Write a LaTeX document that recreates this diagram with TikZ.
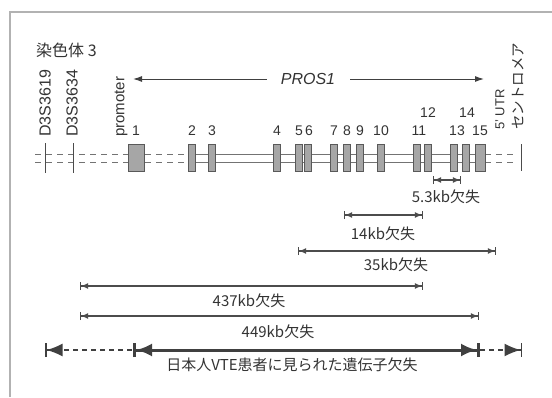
\documentclass[tikz,border=0pt]{standalone}
\usepackage{fontspec}
\setmainfont{Liberation Sans}
\newfontfamily\jp{Noto Sans CJK JP}
\usetikzlibrary{arrows.meta, positioning}
\pgfdeclarelayer{background}
\pgfsetlayers{background,main}

\begin{document}
\begin{tikzpicture}[x=1pt, y=-1pt,
    exon/.style={rectangle, draw=black!65, fill=gray!70, line width=0.7pt, minimum width=7pt, minimum height=27pt, inner sep=0pt},
    num/.style={font=\fontsize{14}{16}\selectfont, text=black!80, inner sep=0pt},
    vlabel/.style={rotate=90, anchor=west, inner sep=0pt, text=black!80},
    dellabel/.style={font=\jp\fontsize{15}{17}\selectfont, text=black!80, inner sep=0pt, anchor=north},
    del/.style={draw=black!70, line width=1.1pt, {Bar[width=8pt]Latex[length=7pt,width=6pt]}-{Latex[length=7pt,width=6pt]Bar[width=8pt]}},
    backbone/.style={draw=black!55, line width=1pt},
    marker/.style={draw=black!70, line width=0.8pt}]

    \useasboundingbox (0,0) rectangle (552,397);

    % frame
    \draw[gray!60, line width=1.2pt] (10,397) -- (10,12) -- (552,12);

    % title
    \node[anchor=west, inner sep=0pt, text=black!80, font=\jp\fontsize{16}{18}\selectfont] (chr) at (36,50) {染色体 3};

    % backbone ends
    \coordinate (lstart) at (35,158);
    \coordinate (rstop) at (513,158);

    % exons
    \node[exon, minimum width=16pt] (e1) at (136,158) {};
    \foreach \n/\x in {2/192, 3/212, 4/277, 5/299, 6/308, 7/334, 8/347, 9/360, 10/381, 11/417, 12/428, 13/454, 14/466}
        \node[exon] (e\n) at (\x,158) {};
    \node[exon, minimum width=10pt] (e15) at (480,158) {};

    % backbone, two strands behind the exons
    \begin{pgfonlayer}{background}
        \foreach \s in {-4,4} {
            \draw[backbone, dash pattern=on 6pt off 5pt] ([yshift=\s pt]lstart) -- ([yshift=\s pt]e2.west);
            \draw[backbone] ([yshift=\s pt]e2.west) -- ([yshift=\s pt]e15.east);
            \draw[backbone, dash pattern=on 6pt off 5pt] ([yshift=\s pt]e15.east) -- ([yshift=\s pt]rstop);
        }
    \end{pgfonlayer}

    % exon numbers
    \foreach \n/\x in {1/136, 2/192, 3/212, 4/277, 5/299, 6/309, 7/334, 8/347, 9/360, 10/381, 11/419, 13/457, 15/480}
        \node[num] (n\n) at (\x,131) {\n};
    \node[num] (n12) at (428,113) {12};
    \node[num] (n14) at (467,113) {14};

    % markers
    \coordinate (m1t) at (45,143);  \coordinate (m1b) at (45,173);
    \coordinate (m2t) at (73,143);  \coordinate (m2b) at (73,173);
    \coordinate (cent) at (521,144); \coordinate (centb) at (521,171);
    \draw[marker] (m1t) -- (m1b);
    \draw[marker] (m2t) -- (m2b);
    \draw[marker] (cent) -- (centb);

    % vertical labels
    \node[vlabel, font=\fontsize{16}{18}\selectfont] (d19) at (45,137) {D3S3619};
    \node[vlabel, font=\fontsize{16}{18}\selectfont] (d34) at (72,137) {D3S3634};
    \node[vlabel, font=\fontsize{15}{17}\selectfont] (prom) at (121,137) {promoter};
    \node[vlabel, font=\fontsize{13}{15}\selectfont] (utr) at (500,130) {5' UTR};
    \node[vlabel, font=\jp\fontsize{14.5}{16}\selectfont] (cen) at (518,130) {セントロメア};

    % PROS1
    \node[inner sep=0pt, text=black!80, font=\itshape\fontsize{16}{18}\selectfont] (pros) at (308,79) {PROS1};
    \coordinate (pl) at (133,79);
    \coordinate (pr) at (484,79);
    \draw[black!75, line width=1pt, -{Latex[length=9pt,width=6pt]}] (pros.west) ++(-14pt,0) -- (pl);
    \draw[black!75, line width=1pt, -{Latex[length=9pt,width=6pt]}] (pros.east) ++(15pt,0) -- (pr);

    % deletions
    \coordinate (a53) at (433,180);  \coordinate (b53) at (461,180);
    \coordinate (a14) at (344,215);  \coordinate (b14) at (423,215);
    \coordinate (a35) at (298,251);  \coordinate (b35) at (496,251);
    \coordinate (a437) at (80,286);  \coordinate (b437) at (423,286);
    \coordinate (a449) at (80,316);  \coordinate (b449) at (479,316);
    \draw[del] (a53) -- (b53);
    \draw[del] (a14) -- (b14);
    \draw[del] (a35) -- (b35);
    \draw[del] (a437) -- (b437);
    \draw[del] (a449) -- (b449);
    \node[dellabel] (l53) at (446,190) {5.3kb欠失};
    \node[dellabel] (l14) at (383,227) {14kb欠失};
    \node[dellabel] (l35) at (396,258) {35kb欠失};
    \node[dellabel] (l437) at (249,294) {437kb欠失};
    \node[dellabel] (l449) at (278,325) {449kb欠失};

    % Japanese patients
    \coordinate (jl) at (45,350);
    \coordinate (jm1) at (133,350);
    \coordinate (jm2) at (480,350);
    \coordinate (jr) at (522,350);
    \draw[black!75, line width=1.5pt, dash pattern=on 5pt off 4pt, {Bar[width=14pt]Latex[length=16pt,width=13pt]}-] (jl) -- (jm1);
    \draw[black!75, line width=3pt, {Bar[width=14pt]Latex[length=16pt,width=13pt]}-{Latex[length=16pt,width=13pt]Bar[width=14pt]}] (jm1) -- (jm2);
    \draw[black!75, line width=1.5pt, dash pattern=on 5pt off 4pt, -{Latex[length=16pt,width=13pt]Bar[width=14pt]}] (jm2) -- (jr);
    \node[dellabel] (ljp) at (292,358) {日本人VTE患者に見られた遺伝子欠失};
\end{tikzpicture}
\end{document}
